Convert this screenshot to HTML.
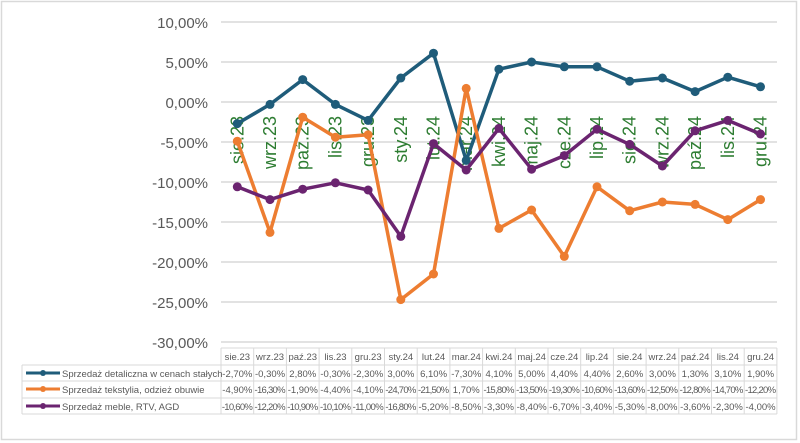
<!DOCTYPE html>
<html><head><meta charset="utf-8"><style>
body{margin:0;background:#fff;}
svg{display:block;font-family:"Liberation Sans",sans-serif;}
</style></head><body>
<svg width="800" height="443" viewBox="0 0 800 443">
<rect x="1.5" y="1.5" width="795" height="438" fill="#fff" stroke="#d9d9d9" stroke-width="1.5"/>
<g stroke="#d9d9d9" stroke-width="1.5">
<line x1="221" x2="777" y1="22" y2="22"/><line x1="221" x2="777" y1="62" y2="62"/>
<line x1="221" x2="777" y1="102" y2="102"/><line x1="221" x2="777" y1="142" y2="142"/>
<line x1="221" x2="777" y1="182" y2="182"/><line x1="221" x2="777" y1="222" y2="222"/>
<line x1="221" x2="777" y1="262" y2="262"/><line x1="221" x2="777" y1="302" y2="302"/>
<line x1="221" x2="777" y1="342" y2="342"/>
</g>
<g font-size="15" fill="#595959" text-anchor="end">
<text x="208" y="28">10,00%</text><text x="208" y="68">5,00%</text><text x="208" y="108">0,00%</text>
<text x="208" y="148">-5,00%</text><text x="208" y="188">-10,00%</text><text x="208" y="228">-15,00%</text>
<text x="208" y="268">-20,00%</text><text x="208" y="308">-25,00%</text><text x="208" y="348">-30,00%</text>
</g>
<g font-size="18" fill="#2e7d32" text-anchor="end" id="cats"></g>
<g id="series"></g>
<g id="table" font-size="9.5" fill="#595959"></g>
</svg>
<script>
const cats=["sie.23","wrz.23","paź.23","lis.23","gru.23","sty.24","lut.24","mar.24","kwi.24","maj.24","cze.24","lip.24","sie.24","wrz.24","paź.24","lis.24","gru.24"];
const A=[-2.7,-0.3,2.8,-0.3,-2.3,3.0,6.1,-7.3,4.1,5.0,4.4,4.4,2.6,3.0,1.3,3.1,1.9];
const B=[-4.9,-16.3,-1.9,-4.4,-4.1,-24.7,-21.5,1.7,-15.8,-13.5,-19.3,-10.6,-13.6,-12.5,-12.8,-14.7,-12.2];
const C=[-10.6,-12.2,-10.9,-10.1,-11.0,-16.8,-5.2,-8.5,-3.3,-8.4,-6.7,-3.4,-5.3,-8.0,-3.6,-2.3,-4.0];
const ns="http://www.w3.org/2000/svg";
const X=i=>237.3+i*32.7, Y=v=>102-v*8;
function el(t,a,p,txt){const e=document.createElementNS(ns,t);for(const k in a)e.setAttribute(k,a[k]);if(txt!=null)e.textContent=txt;p.appendChild(e);return e;}
const cg=document.getElementById('cats');
cats.forEach((c,i)=>{el('text',{x:0,y:0,transform:`translate(${X(i)+6},116) rotate(-90)`},cg,c);});
const sg=document.getElementById('series');
[[A,'#1f5c7a'],[B,'#ed7d31'],[C,'#6b2470']].forEach(([d,col])=>{
 el('polyline',{points:d.map((v,i)=>X(i)+','+Y(v)).join(' '),fill:'none',stroke:col,'stroke-width':3.5,'stroke-linejoin':'round'},sg);
 d.forEach((v,i)=>el('circle',{cx:X(i),cy:Y(v),r:4.5,fill:col},sg));
});
const tg=document.getElementById('table');
const L=221,W=32.7,R=L+17*W;
const rows=[348,365,381,398,414];
// header row lines
el('line',{x1:L,x2:R,y1:348,y2:348,stroke:'#d9d9d9'},tg);
for(let r=1;r<5;r++)el('line',{x1:22,x2:R,y1:rows[r],y2:rows[r],stroke:'#d9d9d9'},tg);
el('line',{x1:22,x2:22,y1:365,y2:414,stroke:'#d9d9d9'},tg);
for(let i=0;i<=17;i++)el('line',{x1:L+i*W,x2:L+i*W,y1:348,y2:414,stroke:'#d9d9d9'},tg);
cats.forEach((c,i)=>el('text',{x:L+i*W+W/2,y:360,'text-anchor':'middle'},tg,c));
const fmt=v=>v.toFixed(2).replace('.',',')+'%';
const names=["Sprzedaż detaliczna w cenach stałych","Sprzedaż tekstylia, odzież obuwie","Sprzedaż meble, RTV, AGD"];
const cols=['#1f5c7a','#ed7d31','#6b2470'];
[A,B,C].forEach((d,r)=>{
 const y=rows[r+1]+12;
 el('line',{x1:26,x2:60,y1:y-4,y2:y-4,stroke:cols[r],'stroke-width':3},tg);
 el('circle',{cx:43,cy:y-4,r:3,fill:cols[r]},tg);
 el('text',{x:62,y:y},tg,names[r]);
 d.forEach((v,i)=>el('text',{x:L+i*W+W/2,y:y,'text-anchor':'middle','font-size':9.5,textLength:fmt(v).length>6?31:null},tg,fmt(v)));
});
tg.querySelectorAll('text[textLength=""], text[textLength="null"]').forEach(e=>e.removeAttribute('textLength'));
</script>
</body></html>
